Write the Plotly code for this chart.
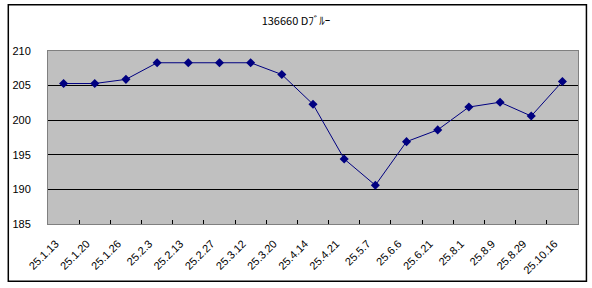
import plotly.graph_objects as go

title_text = "136660 Dﾌﾞﾙｰ"
dates = ["25.1.13", "25.1.20", "25.1.26", "25.2.3", "25.2.13", "25.2.27", "25.3.12",
         "25.3.20", "25.4.14", "25.4.21", "25.5.7", "25.6.6", "25.6.21", "25.8.1",
         "25.8.9", "25.8.29", "25.10.16"]
values = [205.3, 205.3, 205.9, 208.3, 208.3, 208.3, 208.3,
          206.6, 202.3, 194.4, 190.6, 196.9, 198.6, 201.9,
          202.6, 200.6, 205.6]
y_ticks = [185, 190, 195, 200, 205, 210]

fig = go.Figure()
fig.add_trace(go.Scatter(
    x=dates, y=values, mode="lines+markers",
    line=dict(color="#000080", width=1),
    marker=dict(symbol="diamond", size=7, color="#000080"),
    showlegend=False,
))

L, R, T, B = 44, 14, 51, 63
W, H = 592, 288
pw, ph = W - L - R, H - T - B

def px_x(x):
    return (x - L) / pw

def px_y(y):
    return (H - B - y) / ph

fig.update_layout(
    width=W, height=H,
    margin=dict(l=L, r=R, t=T, b=B, pad=0),
    paper_bgcolor="white",
    plot_bgcolor="#C0C0C0",
    font=dict(family="Liberation Sans, Arial, sans-serif", size=11, color="black"),
    title=dict(text=title_text, x=(296) / W, xanchor="center", y=1 - 21 / H, yanchor="middle",
               font=dict(family="Noto Sans CJK JP, sans-serif", size=11, color="black")),
    xaxis=dict(type="category", range=[-0.5, len(dates) - 0.5],
               tickson="boundaries", ticks="inside", ticklen=4,
               tickcolor="black", tickangle=-45, showgrid=False,
               showline=True, linecolor="#808080", linewidth=1, mirror=True,
               ticklabelstandoff=8, ticklabelshift=-8,
               tickfont=dict(size=11, color="black")),
    yaxis=dict(range=[185, 210], tickvals=y_ticks, showgrid=True, gridcolor="black",
               gridwidth=1, zeroline=False, showline=True, linecolor="#808080",
               linewidth=1, mirror=True, ticks="", ticklabelstandoff=14,
               tickfont=dict(size=11, color="black")),
    shapes=[dict(type="rect", xref="paper", yref="paper",
                 x0=px_x(4), x1=px_x(586.5), y0=px_y(282.5), y1=px_y(4.5),
                 line=dict(color="black", width=1.5), fillcolor="rgba(0,0,0,0)",
                 layer="above")],
)

fig.write_html("out.html")
